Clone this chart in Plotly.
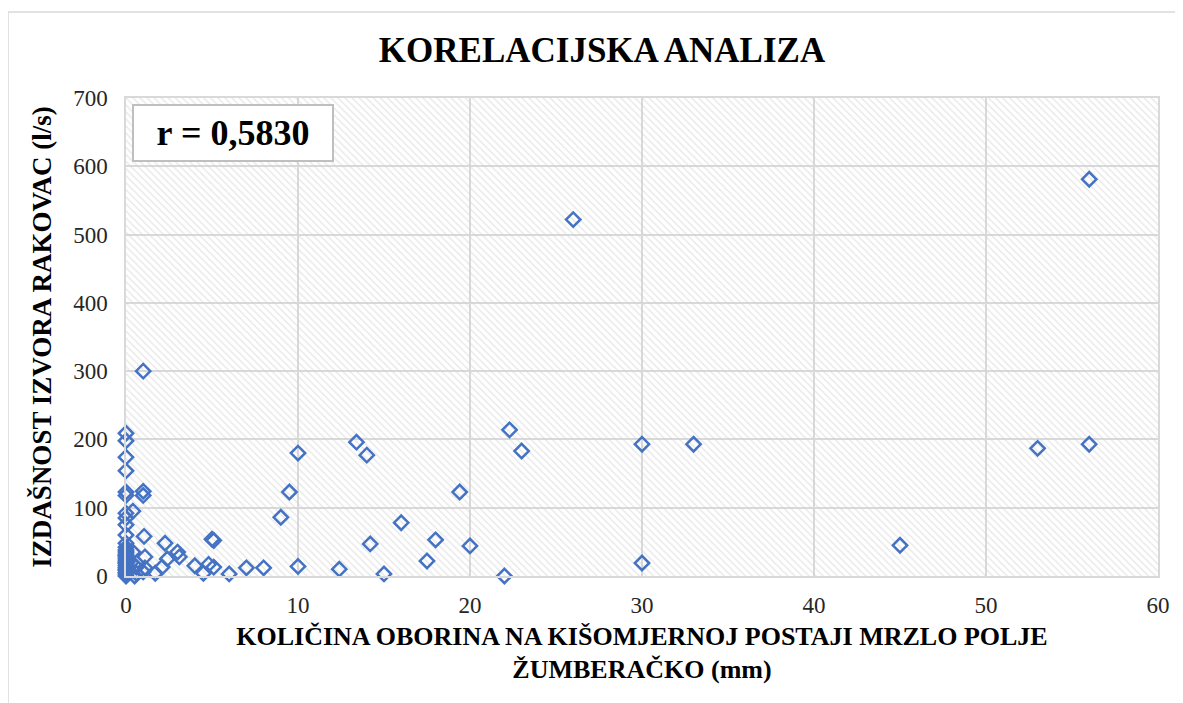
import plotly.graph_objects as go

# Data
precip_mm = [0, 0, 0, 0, 0, 0, 0, 0, 0, 0, 0, 0, 0, 0, 0, 0, 0, 0, 0, 0, 0, 0, 0, 0, 0, 0, 0, 0,
             0.4, 0.4, 0.3, 0.5, 0.6, 0.6, 1.0, 1.0, 1.0, 1.05, 1.1, 1.1, 1.0, 1.7, 2.1, 2.27, 2.4,
             3.0, 3.1, 4.0, 4.8, 5.1, 4.5, 5.0, 5.1, 6.0, 7.0, 8.0, 9.0, 9.5, 10.0, 10.0, 12.4,
             13.4, 14.0, 14.2, 15.0, 16.0, 17.5, 18.0, 19.4, 20.0, 22.0, 22.3, 23.0, 26.0, 30.0,
             30.0, 33.0, 45.0, 53.0, 56.0, 56.0]
discharge_ls = [209, 198, 174, 154, 123, 118, 92, 85, 75, 60, 48, 42, 38, 35, 32, 30, 28, 25, 22, 20,
                18, 15, 12, 10, 8, 5, 3, 0,
                95, 35, 20, 0, 13, 4, 124, 118, 300, 58, 28, 12, 6, 4, 13, 48, 25,
                35, 28, 15, 17, 13, 4, 54, 52, 3, 12, 12, 86, 123, 180, 14, 10,
                196, 177, 47, 3, 78, 22, 53, 123, 44, 0, 214, 183, 522, 193,
                19, 193, 45, 187, 193, 581]

x_range = [0, 60]
y_range = [0, 700]
x_ticks = [0, 10, 20, 30, 40, 50, 60]
y_ticks = [0, 100, 200, 300, 400, 500, 600, 700]

title_text = "KORELACIJSKA ANALIZA"
x_title = "KOLIČINA OBORINA NA KIŠOMJERNOJ POSTAJI MRZLO POLJE<br>ŽUMBERAČKO (mm)"
y_title = "IZDAŠNOST IZVORA RAKOVAC (l/s)"
r_text = "r = 0,5830"

FONT = "Liberation Serif"
GRID = "#d9d9d9"

# page has an 8px body offset; plot area target: x 126..1158, y 98..576 (page px)
W, H = 1175, 695
ML, MR, MT, MB = 118, 25, 90, 127
PW, PH = W - ML - MR, H - MT - MB

fig = go.Figure()

# hatched plot-area background
fig.add_trace(go.Scatter(
    x=[x_range[0], x_range[1], x_range[1], x_range[0], x_range[0]],
    y=[y_range[0], y_range[0], y_range[1], y_range[1], y_range[0]],
    mode="lines", line=dict(width=0), fill="toself",
    fillcolor="rgba(0,0,0,0)",
    fillpattern=dict(shape="\\", fgcolor="#d0d0d0", size=5, solidity=0.28),
    hoverinfo="skip", showlegend=False,
))

fig.add_trace(go.Scatter(
    x=precip_mm, y=discharge_ls, mode="markers",
    marker=dict(symbol="diamond-open", size=11, color="#4472C4",
                line=dict(width=2.5, color="#4472C4")),
    cliponaxis=False, showlegend=False,
))

axis_common = dict(
    showgrid=True, gridcolor=GRID, gridwidth=1.5,
    showline=True, linecolor=GRID, linewidth=1.5, mirror=True,
    zeroline=False, ticks="", automargin=False,
    tickfont=dict(family=FONT, size=23, color="#262626"),
)

fig.update_layout(
    width=W, height=H,
    paper_bgcolor="white", plot_bgcolor="white",
    margin=dict(l=ML, r=MR, t=MT, b=MB),
    title=dict(text="<b>" + title_text + "</b>", x=(602 - 8) / W, xanchor="center",
               xref="container", y=1 - (50 - 8) / H, yref="container", yanchor="middle",
               font=dict(family=FONT, size=35, color="black")),
    xaxis=dict(range=x_range, tickvals=x_ticks, ticklabelstandoff=8,
               title=dict(text="<b>" + x_title + "</b>", standoff=9,
                          font=dict(family=FONT, size=26, color="black")),
               **axis_common),
    yaxis=dict(range=y_range, tickvals=y_ticks, ticklabelstandoff=12,
               title=dict(text="<b>" + y_title + "</b>", standoff=14,
                          font=dict(family=FONT, size=27, color="black")),
               **axis_common),
    shapes=[
        dict(type="rect", xref="paper", yref="paper",
             x0=(8 - 126) / PW, x1=1 + (1250 - 1158) / PW,
             y0=-(720 - 576) / PH, y1=1 + (98 - 12) / PH,
             line=dict(color="#d9d9d9", width=1.5), fillcolor="rgba(0,0,0,0)"),
    ],
    annotations=[
        dict(text="<b>" + r_text + "</b>", xref="paper", yref="paper",
             x=(132 - 126) / PW, y=1 - 6 / PH, xanchor="left", yanchor="top",
             showarrow=False, bgcolor="white", bordercolor="#bfbfbf", borderwidth=2,
             borderpad=7, width=184, align="center",
             font=dict(family=FONT, size=36, color="black")),
    ],
)

fig.write_html("out.html")
